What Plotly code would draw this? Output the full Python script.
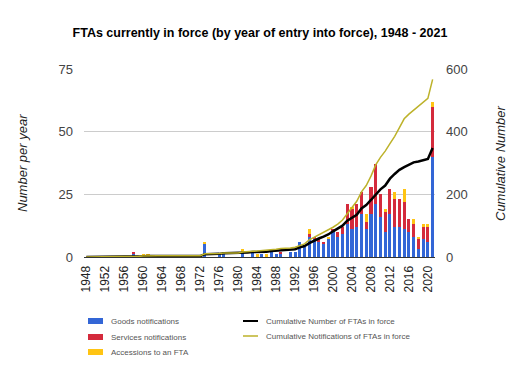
import plotly.graph_objects as go

years = list(range(1948, 2022))

# Per-year notifications
goods = {1958: 1, 1973: 5, 1976: 1, 1977: 2, 1981: 2, 1983: 2, 1985: 1, 1987: 2,
         1988: 1, 1989: 1, 1991: 2, 1992: 2, 1993: 6, 1994: 4, 1995: 8, 1996: 7,
         1997: 6, 1998: 5, 1999: 7, 2000: 10, 2001: 8, 2002: 9, 2003: 13, 2004: 11,
         2005: 12, 2006: 17, 2007: 11, 2008: 17, 2009: 21, 2010: 16, 2011: 10,
         2012: 17, 2013: 12, 2014: 12, 2015: 11, 2016: 10, 2017: 8, 2018: 3,
         2019: 7, 2020: 6, 2021: 40}
services = {1958: 1, 1989: 1, 1995: 1, 1996: 1, 1997: 1, 1998: 1, 2000: 1, 2001: 2,
            2002: 3, 2003: 8, 2004: 8, 2005: 9, 2006: 9, 2007: 3, 2008: 11, 2009: 16,
            2010: 9, 2011: 8, 2012: 10, 2013: 11, 2014: 11, 2015: 11, 2016: 5,
            2017: 5, 2018: 4, 2019: 5, 2020: 6, 2021: 20}
accessions = {1960: 1, 1961: 1, 1973: 1, 1981: 1, 1984: 1, 1986: 1, 1995: 2, 1999: 1,
              2004: 1, 2007: 3, 2011: 1, 2013: 3, 2015: 5, 2017: 2, 2018: 1,
              2019: 1, 2020: 1, 2021: 2}

# Cumulative series (right axis)
cum_ftas = {1948: 0, 1957: 0, 1958: 1, 1959: 1, 1960: 2, 1961: 3, 1972: 3, 1973: 9,
            1975: 9, 1976: 10, 1977: 12, 1980: 12, 1981: 14, 1982: 14, 1983: 16,
            1984: 16, 1985: 17, 1986: 17, 1987: 19, 1988: 20, 1989: 21, 1990: 21,
            1991: 23, 1992: 25, 1993: 31, 1994: 35, 1995: 44, 1996: 52, 1997: 59,
            1998: 65, 1999: 72, 2000: 82, 2001: 91, 2002: 100, 2003: 116, 2004: 125,
            2005: 135, 2006: 155, 2007: 166, 2008: 182, 2009: 200, 2010: 216,
            2011: 228, 2012: 250, 2013: 265, 2014: 278, 2015: 287, 2016: 294,
            2017: 302, 2018: 305, 2019: 309, 2020: 313, 2021: 348}
cum_notif = {1948: 0, 1957: 0, 1958: 2, 1959: 2, 1960: 3, 1961: 4, 1972: 4, 1973: 10,
             1975: 10, 1976: 11, 1977: 13, 1980: 13, 1981: 16, 1982: 16, 1983: 18,
             1984: 19, 1985: 20, 1986: 21, 1987: 23, 1988: 25, 1989: 27, 1990: 27,
             1991: 29, 1992: 31, 1993: 37, 1994: 42, 1995: 55, 1996: 63, 1997: 70,
             1998: 77, 1999: 85, 2000: 95, 2001: 105, 2002: 118, 2003: 138, 2004: 158,
             2005: 178, 2006: 208, 2007: 228, 2008: 258, 2009: 294, 2010: 318,
             2011: 338, 2012: 362, 2013: 385, 2014: 413, 2015: 441, 2016: 456,
             2017: 469, 2018: 480, 2019: 493, 2020: 506, 2021: 567}

tick_years = list(range(1948, 2021, 4))

series_names = ["Goods notifications", "Services notifications", "Accessions to an FTA",
                "Cumulative Number of FTAs in force",
                "Cumulative Notifications of FTAs in force"]


def full(d):
    """Per-year list; years missing in a flat stretch repeat the last read value."""
    out, last = [], 0
    for y in years:
        if y in d:
            last = d[y]
        out.append(last)
    return out


def bars(d):
    return [d.get(y, 0) for y in years]


C_GOODS = "#3366d6"
C_SERV = "#d42a3c"
C_ACC = "#ffc413"
C_CUMN = "#000000"
C_CUMNOT = "#bdb22a"
colors = [C_GOODS, C_SERV, C_ACC, C_CUMN, C_CUMNOT]

fig = go.Figure()
fig.add_trace(go.Bar(x=years, y=bars(goods), name=series_names[0],
                     marker=dict(color=C_GOODS, line_width=0)))
fig.add_trace(go.Bar(x=years, y=bars(services), name=series_names[1],
                     marker=dict(color=C_SERV, line_width=0)))
fig.add_trace(go.Bar(x=years, y=bars(accessions), name=series_names[2],
                     marker=dict(color=C_ACC, line_width=0)))
fig.add_trace(go.Scatter(x=years, y=full(cum_ftas), name=series_names[3],
                         mode="lines", line=dict(color=C_CUMN, width=2.5), yaxis="y2"))
fig.add_trace(go.Scatter(x=years, y=full(cum_notif), name=series_names[4],
                         mode="lines", line=dict(color=C_CUMNOT, width=1.5), yaxis="y2"))

L, R, T, B = 84, 95, 69, 113
W, H = 530, 370
pw, ph = W - L - R, H - T - B


def px(X):
    return (X - L) / pw


def py(Y):
    return (H - B - Y) / ph


fig.update_layout(
    width=W, height=H,
    margin=dict(l=L, r=R, t=T, b=B, pad=0),
    paper_bgcolor="white", plot_bgcolor="white",
    barmode="stack", bargap=0.35,
    font=dict(family="Liberation Sans, Arial, sans-serif", color="#444444", size=12),
    title=dict(text="<b>FTAs currently in force (by year of entry into force), 1948 - 2021</b>",
               x=260 / W, xanchor="center", xref="container",
               y=1 - 33 / H, yanchor="middle", yref="container",
               font=dict(size=12.5, color="#000000")),
    xaxis=dict(range=[1947.5, 2021.5], tickmode="array", tickvals=tick_years,
               ticktext=[str(y) for y in tick_years], tickangle=-90,
               showgrid=False, zeroline=False, showline=True, linecolor="#333333",
               linewidth=1, ticks="", ticklabelstandoff=3,
               tickfont=dict(size=12, color="#222222")),
    yaxis=dict(range=[0, 75], tickvals=[0, 25, 50, 75], showgrid=True,
               gridcolor="#cccccc", gridwidth=1, zeroline=False, ticks="",
               ticklabelstandoff=10, tickfont=dict(size=13, color="#444444")),
    yaxis2=dict(range=[0, 600], tickvals=[0, 200, 400, 600], overlaying="y",
                side="right", showgrid=False, zeroline=False, ticks="",
                ticklabelstandoff=10, tickfont=dict(size=13, color="#444444")),
    showlegend=False,
)

fig.add_annotation(text="<i>Number per year</i>", xref="paper", yref="paper",
                   x=px(22), y=py(163), textangle=-90, showarrow=False,
                   xanchor="center", yanchor="middle",
                   font=dict(size=13, color="#222222"))
fig.add_annotation(text="<i>Cumulative Number</i>", xref="paper", yref="paper",
                   x=px(500), y=py(163), textangle=-90, showarrow=False,
                   xanchor="center", yanchor="middle",
                   font=dict(size=13, color="#222222"))

# Custom two-column legend
legend_pos = [(88, 321, "box"), (88, 337, "box"), (88, 352, "box"),
              (243, 321, "line"), (243, 336, "line")]
for name, col, (lx, ly, kind) in zip(series_names, colors, legend_pos):
    if kind == "box":
        fig.add_shape(type="rect", xref="paper", yref="paper",
                      x0=px(lx), x1=px(lx + 15), y0=py(ly + 3), y1=py(ly - 3),
                      fillcolor=col, line_width=0)
    else:
        fig.add_shape(type="line", xref="paper", yref="paper",
                      x0=px(lx), x1=px(lx + 15), y0=py(ly), y1=py(ly),
                      line=dict(color=col, width=2 if col == C_CUMN else 1.5))
    fig.add_annotation(text=name, xref="paper", yref="paper",
                       x=px(lx + 21), y=py(ly), xanchor="left", yanchor="middle",
                       showarrow=False, font=dict(size=8, color="#555555"))

fig.write_html("out.html", config={"displayModeBar": False},
               post_script="document.body.style.margin='0';")
